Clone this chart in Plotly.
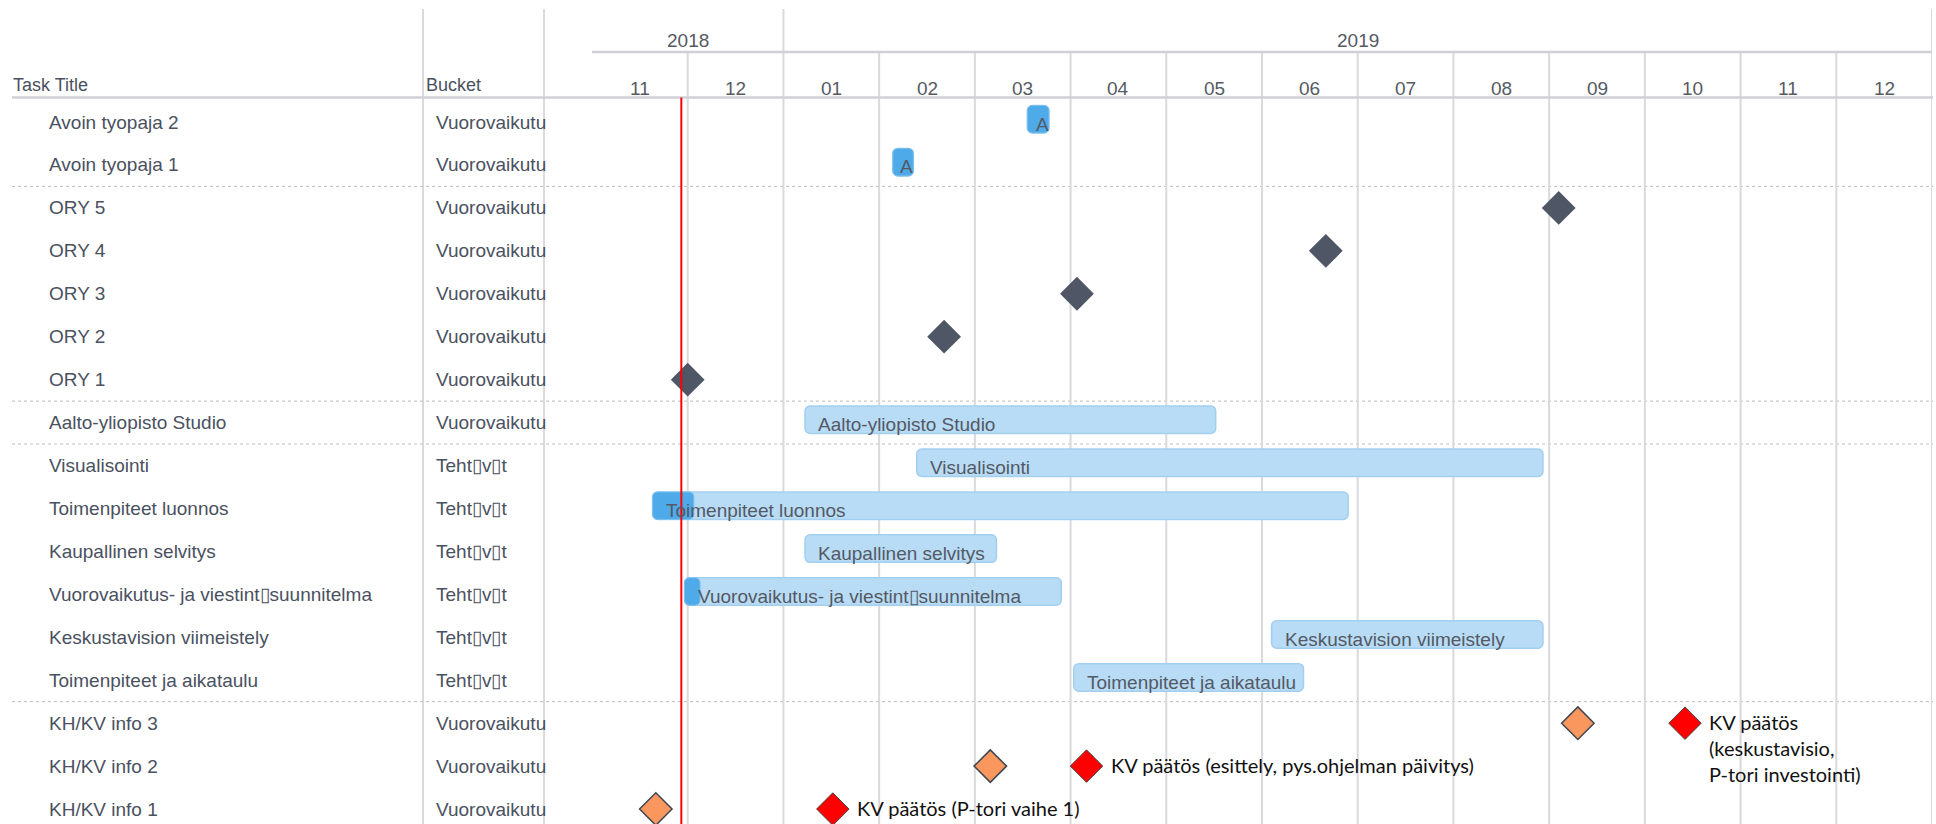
import calendar
import plotly.graph_objects as go

# ---------------- data ----------------
tasks = ["Avoin tyopaja 2", "Avoin tyopaja 1", "ORY 5", "ORY 4", "ORY 3", "ORY 2", "ORY 1",
         "Aalto-yliopisto Studio", "Visualisointi", "Toimenpiteet luonnos", "Kaupallinen selvitys",
         "Vuorovaikutus- ja viestint\u25afsuunnitelma", "Keskustavision viimeistely",
         "Toimenpiteet ja aikataulu", "KH/KV info 3", "KH/KV info 2", "KH/KV info 1"]
buckets = ["Vuorovaikutu"] * 8 + ["Teht\u25afv\u25aft"] * 6 + ["Vuorovaikutu"] * 3
group_breaks = [1.5, 6.5, 7.5, 13.5]

bar_task = ["Avoin tyopaja 2", "Avoin tyopaja 1", "Aalto-yliopisto Studio", "Visualisointi",
            "Toimenpiteet luonnos", "Kaupallinen selvitys",
            "Vuorovaikutus- ja viestint\u25afsuunnitelma", "Keskustavision viimeistely",
            "Toimenpiteet ja aikataulu"]
bar_start = ["2019-03-18", "2019-02-05", "2019-01-08", "2019-02-12", "2018-11-20",
             "2019-01-08", "2018-11-30", "2019-06-04", "2019-04-02"]
bar_end = ["2019-03-25", "2019-02-11", "2019-05-17", "2019-08-30", "2019-06-28",
           "2019-03-08", "2019-03-29", "2019-08-30", "2019-06-14"]
bar_done = ["2019-03-25", "2019-02-11", None, None, "2018-12-03",
            None, "2018-12-05", None, None]
bar_label = ["A", "A", "Aalto-yliopisto Studio", "Visualisointi", "Toimenpiteet luonnos",
             "Kaupallinen selvitys", "Vuorovaikutus- ja viestint\u25afsuunnitelma",
             "Keskustavision viimeistely", "Toimenpiteet ja aikataulu"]

ory_task = ["ORY 5", "ORY 4", "ORY 3", "ORY 2", "ORY 1"]
ory_date = ["2019-09-04", "2019-06-21", "2019-04-03", "2019-02-20", "2018-12-01"]

info_task = ["KH/KV info 3", "KH/KV info 2", "KH/KV info 1"]
info_date = ["2019-09-10", "2019-03-06", "2018-11-21"]
kv_date = ["2019-10-14", "2019-04-06", "2019-01-17"]
kv_text = ["KV päätös<br>(keskustavisio,<br>P-tori investointi)",
           "KV päätös (esittely, pys.ohjelman päivitys)",
           "KV päätös (P-tori vaihe 1)"]

today = "2018-11-29"
month_labels = ["11", "12", "01", "02", "03", "04", "05", "06", "07", "08", "09", "10", "11", "12"]
year_labels = ["2018", "2019"]
year_months = [2, 12]

# ---------------- helpers ----------------
W, H = 1936, 824
ROW_PX = 42.94
FIRST_ROW_PX = 122.0
X0_PX, X1_PX = 592, 1932
MONTH_PX = (X1_PX - X0_PX) / len(month_labels)


def mpos(s):
    y, m, d = map(int, s.split("-"))
    dim = calendar.monthrange(y, m)[1]
    return (y - 2018) * 12 + (m - 11) + (d - 1) / dim


def py(p):
    return (p - FIRST_ROW_PX) / ROW_PX


def pxx(p):
    return p / W


row = {t: i for i, t in enumerate(tasks)}
FONT = "Liberation Sans, Arial, sans-serif"
TXT = "#4a5160"
GRID = "#d9d9de"

fig = go.Figure()

# light bars
starts = [mpos(s) for s in bar_start]
ends = [mpos(e) for e in bar_end]
fig.add_trace(go.Bar(
    y=[row[t] for t in bar_task], base=starts, x=[e - s for s, e in zip(starts, ends)],
    orientation="h", width=0.64, offset=-0.385,
    marker=dict(color="#b8dcf5", line=dict(color="#a2cff0", width=1.5), cornerradius=5),
    hoverinfo="skip", showlegend=False))

# progress bars
pr_rows, pr_base, pr_len = [], [], []
for t, s, d in zip(bar_task, bar_start, bar_done):
    if d:
        pr_rows.append(row[t])
        pr_base.append(mpos(s))
        pr_len.append(mpos(d) - mpos(s))
fig.add_trace(go.Bar(
    y=pr_rows, base=pr_base, x=pr_len, orientation="h", width=0.64, offset=-0.385,
    marker=dict(color="#4eaae9", line=dict(color="#7cc0ee", width=1), cornerradius=5),
    hoverinfo="skip", showlegend=False))

# ORY milestones
fig.add_trace(go.Scatter(
    x=[mpos(d) for d in ory_date], y=[row[t] for t in ory_task], mode="markers",
    marker=dict(symbol="diamond", size=26, color="#4f5666", line=dict(width=0)),
    hoverinfo="skip", showlegend=False))

# KH/KV info milestones
fig.add_trace(go.Scatter(
    x=[mpos(d) for d in info_date], y=[row[t] for t in info_task], mode="markers",
    marker=dict(symbol="diamond", size=25, color="#f9975f", line=dict(color="#3f4652", width=1.5)),
    hoverinfo="skip", showlegend=False))

# KV decisions
fig.add_trace(go.Scatter(
    x=[mpos(d) for d in kv_date], y=[row[t] for t in info_task], mode="markers",
    marker=dict(symbol="diamond", size=25, color="#ff0000", line=dict(color="#444444", width=1)),
    hoverinfo="skip", showlegend=False))

shapes = []
# month boundary lines
for i in range(1, len(month_labels) + 1):
    top = 9 if i in (2, len(month_labels)) else 52
    shapes.append(dict(type="line", xref="x", yref="y", x0=i, x1=i, y0=py(top), y1=py(H),
                       line=dict(color=GRID, width=2), layer="below"))
# column dividers
for cx in (423, 544):
    shapes.append(dict(type="line", xref="paper", yref="y", x0=pxx(cx), x1=pxx(cx),
                       y0=py(9), y1=py(H), line=dict(color=GRID, width=2), layer="below"))
# header lines
shapes.append(dict(type="line", xref="paper", yref="y", x0=pxx(12), x1=pxx(1933),
                   y0=py(97.5), y1=py(97.5), line=dict(color="#d0d0d6", width=2.5)))
shapes.append(dict(type="line", xref="x", yref="y", x0=0, x1=len(month_labels),
                   y0=py(52), y1=py(52), line=dict(color="#d0d0d6", width=2.5)))
# group separators
for gb in group_breaks:
    shapes.append(dict(type="line", xref="paper", yref="y", x0=pxx(12), x1=pxx(1933),
                       y0=gb, y1=gb, line=dict(color="#bdbdbd", width=1, dash="dot"), layer="below"))
# today line
shapes.append(dict(type="line", xref="x", yref="y", x0=mpos(today), x1=mpos(today),
                   y0=py(97.5), y1=py(H), line=dict(color="#ff0000", width=2)))

ann = []
ann.append(dict(text="Task Title", xref="paper", yref="y", x=pxx(11), y=py(85),
                xanchor="left", yanchor="middle", showarrow=False,
                font=dict(family=FONT, size=18, color=TXT)))
ann.append(dict(text="Bucket", xref="paper", yref="y", x=pxx(424), y=py(85),
                xanchor="left", yanchor="middle", showarrow=False,
                font=dict(family=FONT, size=18, color=TXT)))
for i, (t, b) in enumerate(zip(tasks, buckets)):
    ann.append(dict(text=t, xref="paper", yref="y", x=pxx(47), y=i, xanchor="left",
                    yanchor="middle", showarrow=False, font=dict(family=FONT, size=19, color=TXT)))
    ann.append(dict(text=b, xref="paper", yref="y", x=pxx(434), y=i, xanchor="left",
                    yanchor="middle", showarrow=False, font=dict(family=FONT, size=19, color=TXT)))
for i, m in enumerate(month_labels):
    ann.append(dict(text=m, xref="x", yref="y", x=i + 0.5, y=py(88), xanchor="center",
                    yanchor="middle", showarrow=False, font=dict(family=FONT, size=19, color="#555a63")))
cum = 0
for yl, n in zip(year_labels, year_months):
    ann.append(dict(text=yl, xref="x", yref="y", x=cum + n / 2, y=py(40), xanchor="center",
                    yanchor="middle", showarrow=False, font=dict(family=FONT, size=19, color="#555a63")))
    cum += n
for t, s, e, lab in zip(bar_task, bar_start, bar_end, bar_label):
    bar_px = (mpos(e) - mpos(s)) * MONTH_PX
    shift = 11 if bar_px > 60 else max(2, bar_px - 15)
    ann.append(dict(text=lab, xref="x", yref="y", x=mpos(s), y=row[t], xanchor="left", xshift=shift,
                    yanchor="middle", yshift=-2, showarrow=False,
                    font=dict(family=FONT, size=19, color="#545965")))
for t, d, txt in zip(info_task, kv_date, kv_text):
    ann.append(dict(text=txt, xref="x", yref="y", x=mpos(d), y=row[t], xanchor="left", xshift=22,
                    yanchor="top", yshift=15, align="left", showarrow=False,
                    font=dict(family="Lato, Open Sans, sans-serif", size=20, color="#111111")))

fig.update_layout(
    width=W, height=H, margin=dict(l=0, r=0, t=0, b=0),
    paper_bgcolor="white", plot_bgcolor="white", barmode="overlay",
    xaxis=dict(domain=[X0_PX / W, X1_PX / W], range=[0, len(month_labels)], visible=False,
               fixedrange=True),
    yaxis=dict(domain=[0, 1], range=[py(H), py(0)], visible=False, fixedrange=True),
    shapes=shapes, annotations=ann, showlegend=False,
)

fig.write_html("out.html", config={"displayModeBar": False},
               post_script="document.body.style.margin='0';document.body.style.overflow='hidden';")
